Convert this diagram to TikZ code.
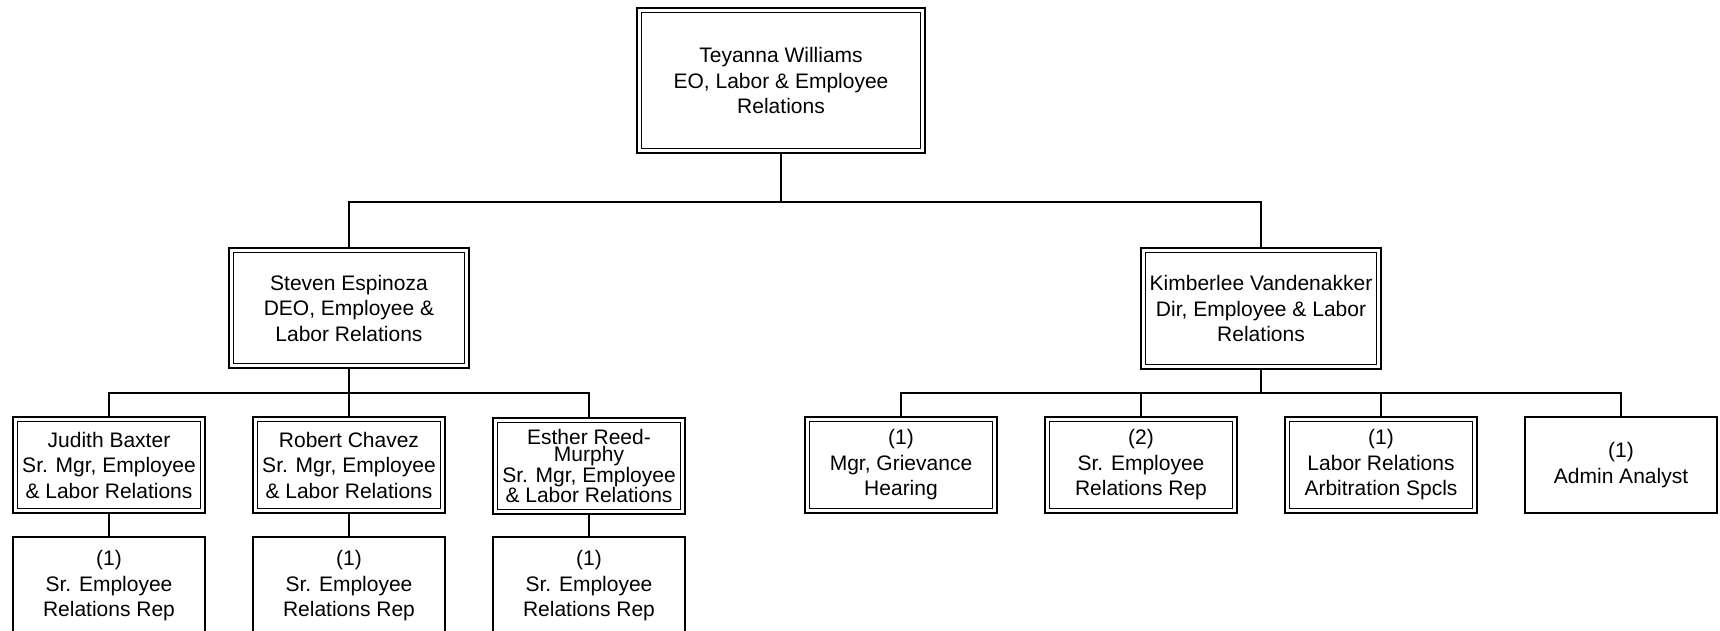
\documentclass[tikz,border=0pt]{standalone}
\usepackage{fontspec}
\setmainfont{Liberation Sans}
\begin{document}
\begin{tikzpicture}[x=1pt,y=-1pt,
  every node/.style={font=\fontsize{21}{25.5}\selectfont, align=center, inner sep=0pt},
  sbox/.style={draw, line width=2pt, minimum width=#1},
  sbox/.default=192pt,
  dbox/.style={draw, line width=2pt, minimum width=#1,
    path picture={\draw[line width=1.1pt]
      ([shift={(4.5pt,4.5pt)}]path picture bounding box.south west) rectangle
      ([shift={(-4.5pt,-4.5pt)}]path picture bounding box.north east);}},
  dbox/.default=192pt,
  conn/.style={line width=2pt}]
\useasboundingbox (0,0) rectangle (1720,631);

% level 1
\node[dbox=288pt, minimum height=145pt] (top) at (781,80.5)
  {Teyanna Williams\\EO, Labor \& Employee\\Relations};

% level 2
\node[dbox=240pt, minimum height=120pt] (steven) at (349,308)
  {Steven Espinoza\\DEO, Employee \&\\Labor Relations};
\node[dbox=240pt, minimum height=121pt] (kim) at (1261,308.5)
  {Kimberlee Vandenakker\\Dir, Employee \& Labor\\Relations};

% level 3 left
\node[dbox, minimum height=96pt] (judith) at (109,465)
  {Judith Baxter\\Sr. Mgr, Employee\\\& Labor Relations};
\node[dbox, minimum height=96pt] (robert) at (349,465)
  {Robert Chavez\\Sr. Mgr, Employee\\\& Labor Relations};
\node[dbox, minimum height=96pt, font=\fontsize{21}{17}\selectfont] (esther) at (589,466)
  {Esther Reed-\\Murphy\\Sr. Mgr, Employee\\\& Labor Relations};

% level 3 right
\node[dbox, minimum height=96pt] (mgr) at (901,465)
  {(1)\\Mgr, Grievance\\Hearing};
\node[dbox, minimum height=96pt] (srrep) at (1141,465)
  {(2)\\Sr. Employee\\Relations Rep};
\node[dbox, minimum height=96pt] (lra) at (1381,465)
  {(1)\\Labor Relations\\Arbitration Spcls};
\node[sbox, minimum height=96pt] (admin) at (1621,465)
  {(1)\\Admin Analyst};

% level 4
\node[sbox, minimum height=98pt] (rep1) at (109,586)
  {(1)\\Sr. Employee\\Relations Rep};
\node[sbox, minimum height=98pt] (rep2) at (349,586)
  {(1)\\Sr. Employee\\Relations Rep};
\node[sbox, minimum height=98pt] (rep3) at (589,586)
  {(1)\\Sr. Employee\\Relations Rep};

% junctions
\coordinate (j1) at (781,202);
\coordinate (j2) at (349,392.5);
\coordinate (j3) at (1261,392.5);

\draw[conn] (top.south) -- (j1);
\draw[conn] (j1) -| (steven.north);
\draw[conn] (j1) -| (kim.north);

\draw[conn] (steven.south) -- (j2);
\draw[conn] (j2) -| (judith.north);
\draw[conn] (j2) -- (robert.north);
\draw[conn] (j2) -| (esther.north);

\draw[conn] (kim.south) -- (j3);
\draw[conn] (j3) -| (mgr.north);
\draw[conn] (j3) -| (srrep.north);
\draw[conn] (j3) -| (lra.north);
\draw[conn] (j3) -| (admin.north);

\draw[conn] (judith.south) -- (rep1.north);
\draw[conn] (robert.south) -- (rep2.north);
\draw[conn] (esther.south) -- (rep3.north);
\end{tikzpicture}
\end{document}
